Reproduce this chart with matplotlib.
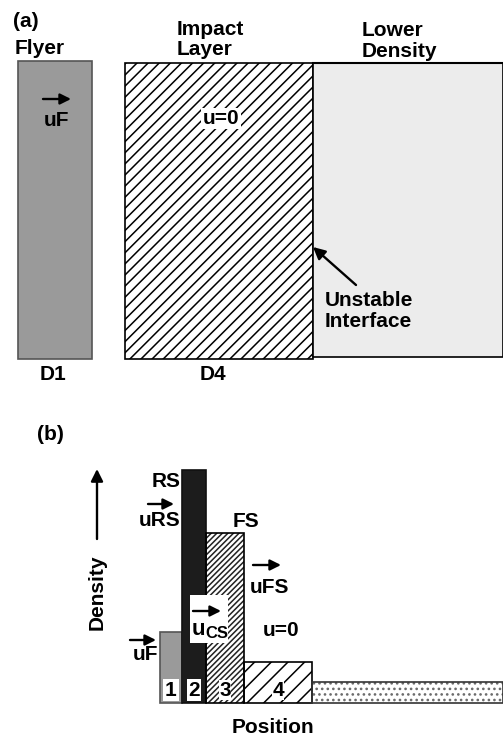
import matplotlib
matplotlib.use("Agg")
import matplotlib.pyplot as plt
from matplotlib.patches import Rectangle
import numpy as np

plt.rcParams['font.family'] = ['Liberation Sans', 'DejaVu Sans']
plt.rcParams['font.weight'] = 'bold'
plt.rcParams['hatch.linewidth'] = 1.1

# ---------- data ----------
# Panel (a): layers (pixel layout units of the schematic)
a_names = ["Flyer", "Impact Layer", "Lower Density"]
a_left = [18, 125, 313]
a_right = [92, 313, 503]
a_top = [61, 63, 63]
a_bottom = [359, 359, 357]
a_colors = ["#9a9a9a", "white", "#ececec"]
a_hatch = [None, "///", None]
a_edge = ["#555555", "black", "black"]

# Panel (b): density vs position profile
b_edges = [0, 22, 46, 84, 152, 343]
b_density = [3.05, 10.0, 7.3, 1.76, 0.9]
b_labels = ["1", "2", "3", "4", ""]
b_colors = ["#9a9a9a", "#1c1c1c", "white", "white", "white"]
b_hatch = [None, None, "//////", "//", "..."]
b_hatchcol = ["#555555", "#111111", "#222222", "black", "#6a6a6a"]
b_edgecol = ["#555555", "#111111", "black", "black", "#333333"]

W, H = 503, 738
fig = plt.figure(figsize=(W / 100, H / 100), dpi=100)
ax = fig.add_axes([0, 0, 1, 1])
ax.set_xlim(0, W)
ax.set_ylim(H, 0)
ax.axis('off')
ax.set_zorder(2)

FS = 15
arrow_kw = dict(arrowstyle='-|>', lw=1.7, color='black', mutation_scale=16,
                shrinkA=0, shrinkB=0)

# ---------- panel (a) ----------
for l, r, t, b, c, h, e in zip(a_left, a_right, a_top, a_bottom, a_colors, a_hatch, a_edge):
    ax.bar(l, b - t, bottom=t, width=r - l, align='edge', color=c, hatch=h,
           edgecolor=e, linewidth=1.2, zorder=2)
ax.plot([a_left[2], a_right[2]], [a_top[2], a_top[2]], color='black', lw=1.5, zorder=3)

ax.text(13, 27, "(a)", fontsize=FS, ha='left', va='baseline')
ax.text(15, 54, "Flyer", fontsize=FS, ha='left', va='baseline')
ax.text(177, 35, "Impact", fontsize=FS, ha='left', va='baseline')
ax.text(177, 55, "Layer", fontsize=FS, ha='left', va='baseline')
ax.text(362, 36, "Lower", fontsize=FS, ha='left', va='baseline')
ax.text(362, 57, "Density", fontsize=FS, ha='left', va='baseline')

ax.annotate('', xy=(71, 99), xytext=(43, 99), arrowprops=arrow_kw, zorder=5)
ax.text(57, 126, "uF", fontsize=FS, ha='center', va='baseline', zorder=5)
ax.text(221, 124, "u=0", fontsize=FS, ha='center', va='baseline', zorder=5,
        bbox=dict(facecolor='white', edgecolor='none', pad=1.0))

ax.annotate('', xy=(313, 247), xytext=(356, 285),
            arrowprops=dict(arrowstyle='-|>', lw=1.7, color='black',
                            mutation_scale=18, shrinkA=0, shrinkB=0), zorder=5)
ax.text(325, 306, "Unstable", fontsize=FS, ha='left', va='baseline', zorder=5)
ax.text(325, 327, "Interface", fontsize=FS, ha='left', va='baseline', zorder=5)

ax.text(40, 380, "D1", fontsize=FS, ha='left', va='baseline')
ax.text(200, 380, "D4", fontsize=FS, ha='left', va='baseline')

# ---------- panel (b) ----------
b_left_px, b_base_px, b_w_px, b_h_px = 160, 703, 343, 233
axb = fig.add_axes([b_left_px / W, (H - b_base_px) / H, b_w_px / W, b_h_px / H])
axb.set_xlim(b_edges[0], b_edges[-1])
axb.set_ylim(0, max(b_density))
axb.axis('off')
axb.set_zorder(1)

for i in range(len(b_density)):
    x0, x1 = b_edges[i], b_edges[i + 1]
    axb.bar(x0, b_density[i], width=x1 - x0, align='edge', color=b_colors[i],
            hatch=b_hatch[i], edgecolor=b_hatchcol[i], linewidth=0,
            clip_on=False, zorder=2)
    axb.bar(x0, b_density[i], width=x1 - x0, align='edge', fill=False,
            edgecolor=b_edgecol[i], linewidth=1.2, clip_on=False, zorder=3)
    if b_labels[i]:
        xc = (x0 + x1) / 2
        if i < 2:
            bb = dict(facecolor='white', edgecolor='none', pad=1.2)
        else:
            bb = dict(facecolor='white', edgecolor='none', pad=0.2)
        axb.text(xc, 0.55, b_labels[i], fontsize=FS, ha='center', va='center',
                 bbox=bb, zorder=6, clip_on=False)

# u_cs white box
ax.add_patch(Rectangle((190, 595), 38, 48, facecolor='white', edgecolor='none', zorder=4))
ax.annotate('', xy=(221, 611), xytext=(193, 611), arrowprops=arrow_kw, zorder=5)
ax.text(192, 635, "u", fontsize=FS + 1, ha='left', va='baseline', zorder=5)
ax.text(205, 638, "CS", fontsize=FS - 3, ha='left', va='baseline', zorder=5)

ax.text(37, 440, "(b)", fontsize=FS, ha='left', va='baseline')
ax.annotate('', xy=(97, 469), xytext=(97, 539),
            arrowprops=dict(arrowstyle='-|>', lw=1.7, color='black',
                            mutation_scale=18, shrinkA=0, shrinkB=0))
ax.text(97, 592, "Density", fontsize=FS, rotation=90, ha='center', va='center')

ax.text(152, 487, "RS", fontsize=FS, ha='left', va='baseline')
ax.annotate('', xy=(174, 504), xytext=(148, 504), arrowprops=arrow_kw, zorder=5)
ax.text(139, 526, "uRS", fontsize=FS, ha='left', va='baseline')
ax.text(233, 527, "FS", fontsize=FS, ha='left', va='baseline')
ax.annotate('', xy=(281, 565), xytext=(253, 565), arrowprops=arrow_kw, zorder=5)
ax.text(250, 593, "uFS", fontsize=FS, ha='left', va='baseline')
ax.text(263, 636, "u=0", fontsize=FS, ha='left', va='baseline')
ax.annotate('', xy=(156, 640), xytext=(130, 640), arrowprops=arrow_kw, zorder=5)
ax.text(133, 660, "uF", fontsize=FS, ha='left', va='baseline', zorder=5)

ax.text(232, 733, "Position", fontsize=FS, ha='left', va='baseline')

fig.savefig("out.png", dpi=100)
